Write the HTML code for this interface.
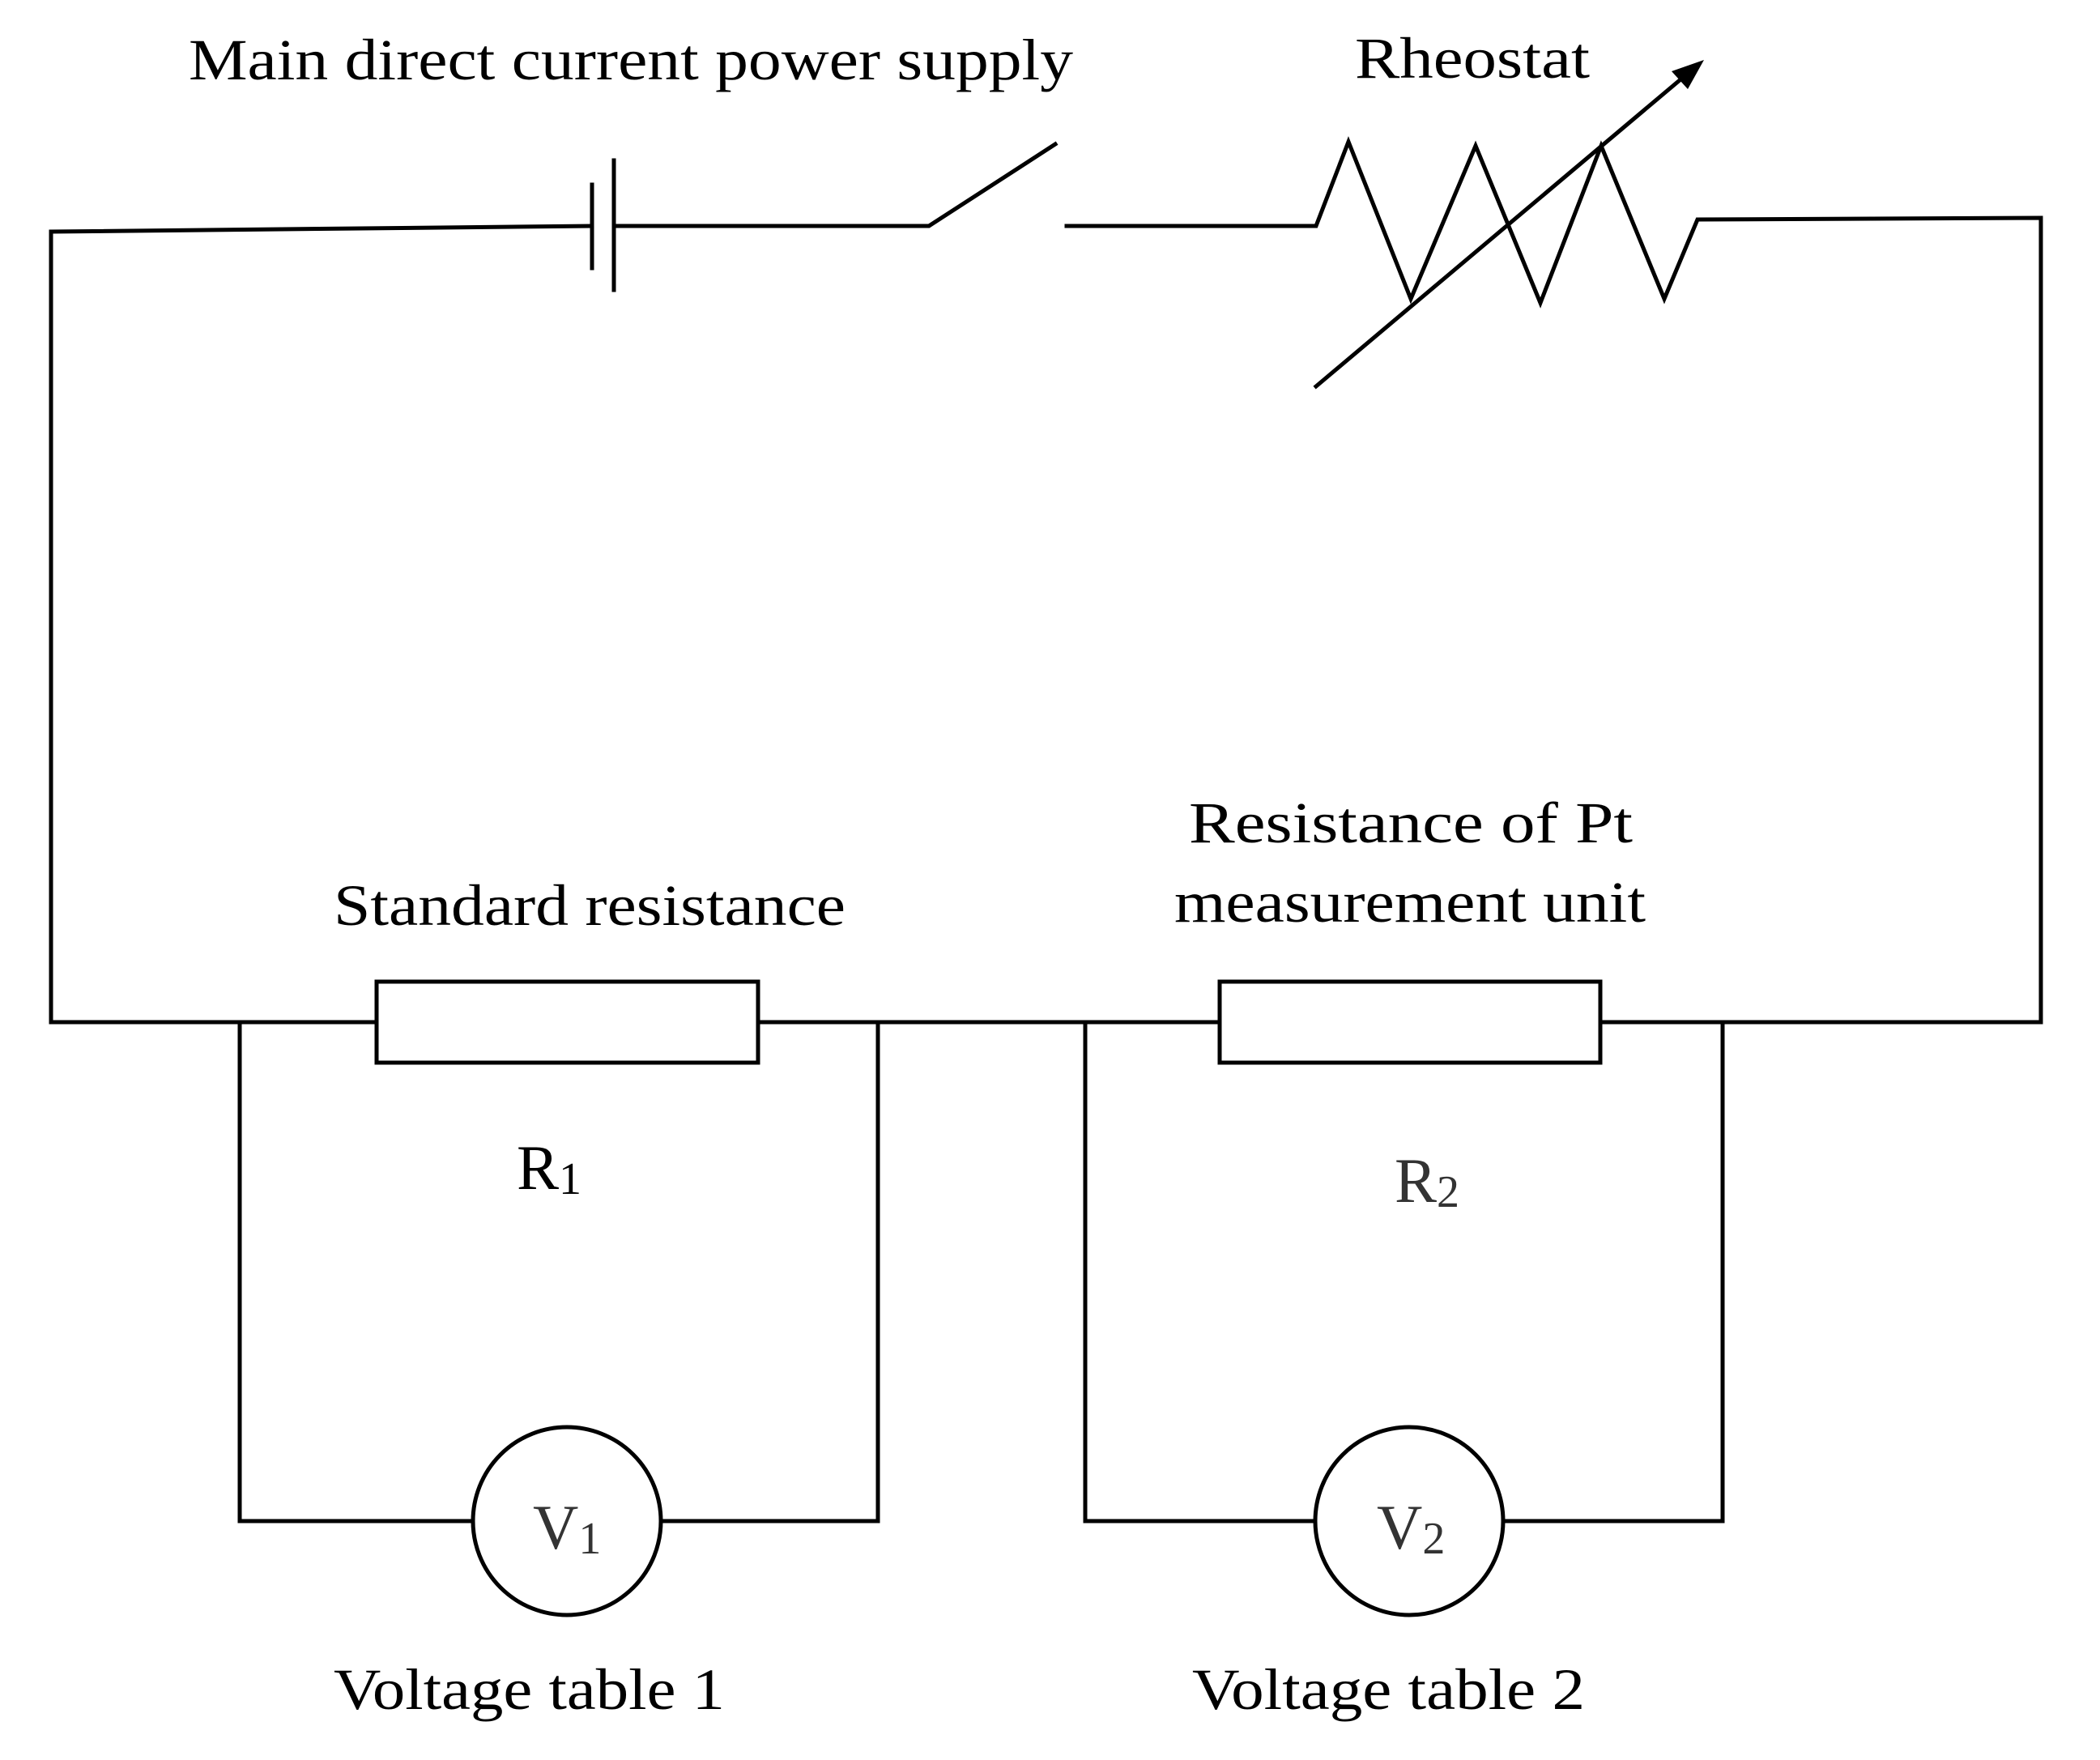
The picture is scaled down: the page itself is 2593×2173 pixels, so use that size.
<!DOCTYPE html>
<html><head><style>html,body{margin:0;padding:0;background:#fff}svg{display:block}text{font-family:"Liberation Serif",serif}</style></head><body>
<svg width="2593" height="2173" viewBox="0 0 2593 2173" xmlns="http://www.w3.org/2000/svg">
<g fill="none" stroke="#000" stroke-width="5" stroke-linecap="square">
<polyline points="731,279 63,286 63,1262 465,1262"/>
<line x1="731" y1="228" x2="731" y2="331"/>
<line x1="758" y1="198" x2="758" y2="358"/>
<polyline points="758,279 1147,279 1303,178"/>
<polyline points="1317,279 1625,279 1665,175 1742,369 1822,180 1902,374 1977,180 2055,369 2096,271 2520,269 2520,1262 1976,1262"/>
<line x1="1625" y1="477" x2="2080" y2="94"/>
<rect x="465" y="1212" width="471" height="100"/>
<rect x="1506" y="1212" width="470" height="100"/>
<line x1="936" y1="1262" x2="1506" y2="1262"/>
<polyline points="296,1262 296,1878 584,1878"/>
<polyline points="816,1878 1084,1878 1084,1262"/>
<polyline points="1340,1262 1340,1878 1624,1878"/>
<polyline points="1856,1878 2127,1878 2127,1262"/>
<circle cx="700" cy="1878" r="116"/>
<circle cx="1740" cy="1878" r="116"/>
</g>
<polygon points="2104,74 2064,88 2084,110" fill="#000"/>
<g fill="#000" font-size="72">
<text x="233" y="98" textLength="1092" lengthAdjust="spacingAndGlyphs">Main direct current power supply</text>
<text x="1673" y="96" textLength="290" lengthAdjust="spacingAndGlyphs">Rheostat</text>
<text x="412" y="1142" textLength="632" lengthAdjust="spacingAndGlyphs">Standard resistance</text>
<text x="1468" y="1040" textLength="548" lengthAdjust="spacingAndGlyphs">Resistance of  Pt</text>
<text x="1450" y="1138" textLength="582" lengthAdjust="spacingAndGlyphs">measurement unit</text>
<text x="638" y="1468" font-size="78">R<tspan font-size="56" dy="6">1</tspan></text>
<text x="1722" y="1484" font-size="78" fill="#333">R<tspan font-size="56" dy="6">2</tspan></text>
<text x="658" y="1912" font-size="78" fill="#333">V<tspan font-size="56" dy="6">1</tspan></text>
<text x="1700" y="1912" font-size="78" fill="#333">V<tspan font-size="56" dy="6">2</tspan></text>
<text x="412" y="2110" textLength="483" lengthAdjust="spacingAndGlyphs">Voltage table 1</text>
<text x="1472" y="2110" textLength="485" lengthAdjust="spacingAndGlyphs">Voltage table 2</text>
</g>
</svg>
</body></html>
